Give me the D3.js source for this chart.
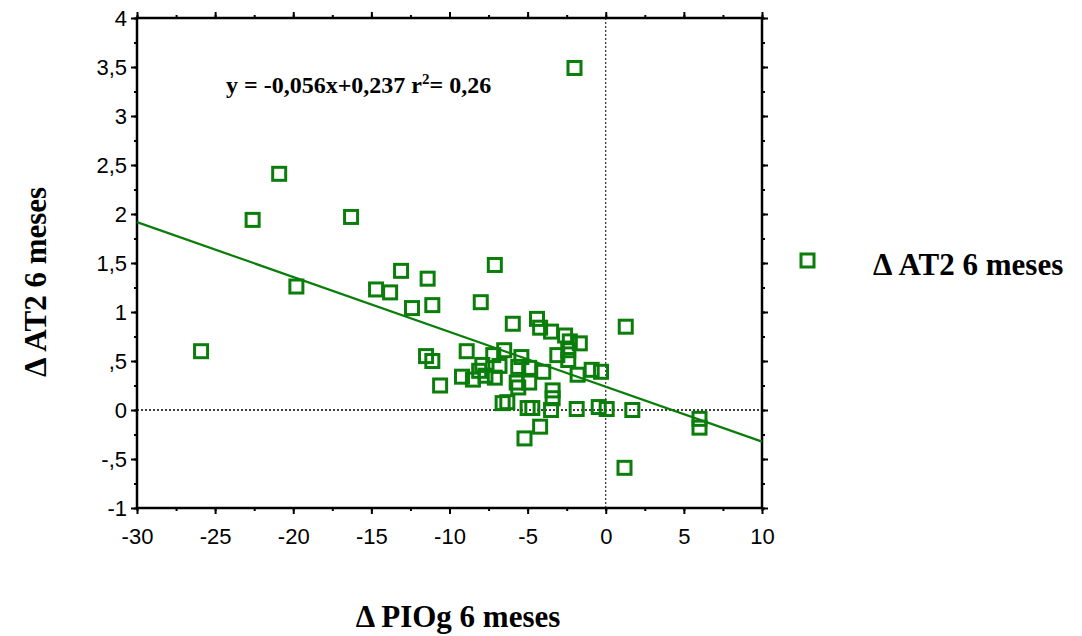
<!DOCTYPE html>
<html>
<head>
<meta charset="utf-8">
<script src="https://cdn.jsdelivr.net/npm/d3@7"></script>
<style>
  body { margin: 0; background: #fff; }
  svg { display: block; }
</style>
</head>
<body>
<div id="chart"></div>
<script>
// delta PIOg (x) and delta AT2 (y)
var pioG = [-2.0, -20.9, -22.6, -16.3, -19.8, -25.9, -7.1, -13.1, -11.4, -14.7,
  -13.8, -8.0, -11.1, -12.4, 1.28, -5.95, -4.4, -4.2, -3.5, -2.6,
  -2.3, -1.66, -2.4, -11.5, -11.1, -8.9, -6.5, -7.2, -5.4, -3.1,
  -2.4, -7.9, -6.8, -5.6, -4.9, -0.9, -0.3, -8.1, -4.0, -9.2,
  -8.5, -7.7, -7.1, -1.8, -5.7, -4.9, -10.6, -5.6, -3.4, -3.4,
  -6.6, -6.3, -5.0, -4.7, -3.5, -1.86, -0.45, 0.06, 1.7, 6.0,
  6.0, -4.2, -5.2, 1.2];
var at2 = [3.49, 2.41, 1.94, 1.97, 1.26, 0.60, 1.48, 1.42, 1.34, 1.23,
  1.20, 1.10, 1.07, 1.04, 0.85, 0.88, 0.93, 0.84, 0.80, 0.76,
  0.70, 0.68, 0.61, 0.55, 0.50, 0.60, 0.61, 0.56, 0.54, 0.56,
  0.51, 0.46, 0.45, 0.44, 0.43, 0.41, 0.39, 0.40, 0.39, 0.34,
  0.31, 0.35, 0.33, 0.36, 0.28, 0.28, 0.25, 0.23, 0.20, 0.12,
  0.07, 0.08, 0.02, 0.02, 0.0, 0.01, 0.03, 0.01, 0.0, -0.09,
  -0.18, -0.17, -0.29, -0.59];

var xTicks = [-30, -25, -20, -15, -10, -5, 0, 5, 10];
var yTicks = [-1, -0.5, 0, 0.5, 1, 1.5, 2, 2.5, 3, 3.5, 4];
var yTickLabels = ["-1", "-,5", "0", ",5", "1", "1,5", "2", "2,5", "3", "3,5", "4"];
var slope = -0.056, intercept = 0.237;
var fitText = "y = -0,056x+0,237 r";
var seriesName = "\u0394 AT2 6 meses";
var xTitle = "\u0394 PIOg 6 meses";
var yTitle = "\u0394 AT2 6 meses";

var width = 1082, height = 636;
var green = "#0a7d0a";
var serif = "'Liberation Serif', 'Times New Roman', serif";
var sans = "'Liberation Sans', Arial, sans-serif";

var svg = d3.select("#chart").append("svg")
  .attr("width", width)
  .attr("height", height);

var x = d3.scaleLinear().domain([-30, 10]).range([137, 762]);
var y = d3.scaleLinear().domain([-1, 4]).range([508, 18]);

// reference lines at zero
svg.append("line")
  .attr("x1", x(0)).attr("x2", x(0))
  .attr("y1", y(4)).attr("y2", y(-1))
  .attr("stroke", "#000").attr("stroke-width", 1)
  .attr("stroke-dasharray", "2,2");
svg.append("line")
  .attr("x1", x(-30)).attr("x2", x(10))
  .attr("y1", y(0)).attr("y2", y(0))
  .attr("stroke", "#000").attr("stroke-width", 1.5)
  .attr("stroke-dasharray", "2,2");

// axes with minor ticks on all four sides
var xMinor = d3.range(-30, 10.01, 2.5);
var yMinor = d3.range(-1, 4.01, 0.25);

function addAxis(axis, tr) {
  var g = svg.append("g").attr("transform", tr).call(axis);
  g.select(".domain").remove();
  g.selectAll(".tick line").attr("stroke", "#000").attr("stroke-width", 2);
  return g;
}

addAxis(d3.axisBottom(x).tickValues(xMinor).tickSize(3).tickFormat(""), "translate(0," + y(-1) + ")");
addAxis(d3.axisTop(x).tickValues(xMinor).tickSize(3).tickFormat(""), "translate(0," + y(4) + ")");
addAxis(d3.axisLeft(y).tickValues(yMinor).tickSize(3).tickFormat(""), "translate(" + x(-30) + ",0)");
addAxis(d3.axisRight(y).tickValues(yMinor).tickSize(3).tickFormat(""), "translate(" + x(10) + ",0)");

var gx = addAxis(d3.axisBottom(x).tickValues(xTicks).tickSize(6).tickPadding(14)
  .tickFormat(function(d) { return String(d); }), "translate(0," + y(-1) + ")");
addAxis(d3.axisTop(x).tickValues(xTicks).tickSize(6).tickFormat(""), "translate(0," + y(4) + ")");
var gy = addAxis(d3.axisLeft(y).tickValues(yTicks).tickSize(6).tickPadding(4)
  .tickFormat(function(d, i) { return yTickLabels[i]; }), "translate(" + x(-30) + ",0)");
addAxis(d3.axisRight(y).tickValues(yTicks).tickSize(6).tickFormat(""), "translate(" + x(10) + ",0)");

gx.selectAll("text").attr("font-family", sans).attr("font-size", 22).attr("fill", "#000");
gy.selectAll("text").attr("font-family", sans).attr("font-size", 22).attr("fill", "#000")
  .attr("dy", "0.35em");

// frame
svg.append("rect")
  .attr("x", x(-30)).attr("y", y(4))
  .attr("width", x(10) - x(-30)).attr("height", y(-1) - y(4))
  .attr("fill", "none").attr("stroke", "#000").attr("stroke-width", 2.5);

// regression line
svg.append("line")
  .attr("x1", x(-30)).attr("y1", y(slope * -30 + intercept))
  .attr("x2", x(10)).attr("y2", y(slope * 10 + intercept))
  .attr("stroke", green).attr("stroke-width", 2.2);

// points
var sz = 13;
svg.append("g").selectAll("rect")
  .data(d3.range(pioG.length))
  .enter().append("rect")
  .attr("x", function(i) { return x(pioG[i]) - sz / 2; })
  .attr("y", function(i) { return y(at2[i]) - sz / 2; })
  .attr("width", sz).attr("height", sz)
  .attr("fill", "none")
  .attr("stroke", green).attr("stroke-width", 3);

// fit equation
var eq = svg.append("text")
  .attr("x", 226).attr("y", 93)
  .attr("font-family", serif).attr("font-size", 24).attr("font-weight", "bold")
  .attr("fill", "#000");
eq.append("tspan").text(fitText);
eq.append("tspan").attr("dy", -9).attr("font-size", 15).text("2");
eq.append("tspan").attr("dy", 9).text("= 0,26");

// legend
svg.append("rect")
  .attr("x", 801).attr("y", 254).attr("width", 13).attr("height", 13)
  .attr("fill", "none").attr("stroke", green).attr("stroke-width", 3);
svg.append("text")
  .attr("x", 873).attr("y", 275)
  .attr("font-family", serif).attr("font-size", 31).attr("font-weight", "bold")
  .text(seriesName);

// axis titles
svg.append("text")
  .attr("x", 458).attr("y", 627)
  .attr("text-anchor", "middle")
  .attr("font-family", serif).attr("font-size", 31).attr("font-weight", "bold")
  .text(xTitle);
svg.append("text")
  .attr("transform", "translate(46,282) rotate(-90)")
  .attr("text-anchor", "middle")
  .attr("font-family", serif).attr("font-size", 31).attr("font-weight", "bold")
  .text(yTitle);
</script>
</body>
</html>
